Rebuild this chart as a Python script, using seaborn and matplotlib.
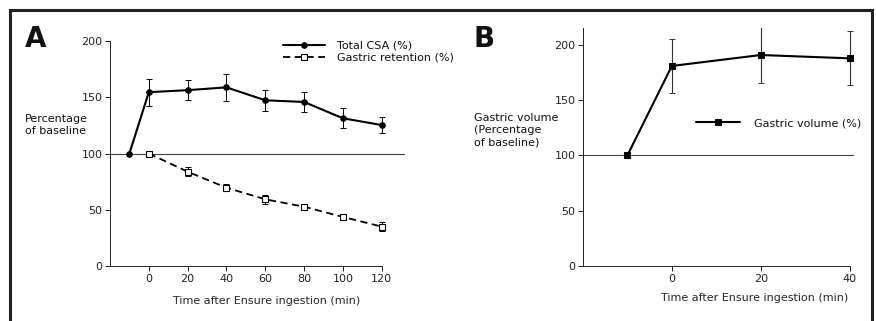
import numpy as np
import pandas as pd
import matplotlib
matplotlib.use("Agg")
import matplotlib.pyplot as plt
import seaborn as sns
from matplotlib.lines import Line2D

sns.set_style("ticks")
plt.rcParams.update({
    "font.family": ["DejaVu Sans"],
    "font.size": 7.5,
    "text.color": "#111111",
    "xtick.color": "#222222",
    "ytick.color": "#222222",
    "axes.edgecolor": "#222222",
    "axes.linewidth": 0.7,
    "xtick.major.width": 0.7,
    "ytick.major.width": 0.7,
    "xtick.major.size": 3.5,
    "ytick.major.size": 3.5,
    "xtick.labelsize": 8,
    "ytick.labelsize": 8,
})

# Panel A data
time_csa = [-10, 0, 20, 40, 60, 80, 100, 120]
csa_mean = [100, 154.5, 156.3, 158.8, 147.3, 145.8, 131.3, 125.3]
csa_err = [0, 12, 9, 12, 9.5, 9, 9, 7]

time_ret = [0, 20, 40, 60, 80, 100, 120]
ret_mean = [100, 83.8, 69.6, 59.3, 52.7, 43.6, 35.0]
ret_err = [0, 4, 3, 4, 2, 3, 4]

# Panel B data
time_vol = [-10, 0, 20, 40]
vol_mean = [100, 180.7, 190.6, 187.6]
vol_err = [0, 24, 25, 24.5]

xticks_a = [0, 20, 40, 60, 80, 100, 120]
xticks_b = [0, 20, 40]
yticks = [0, 50, 100, 150, 200]

df_csa = pd.DataFrame({"t": time_csa, "v": csa_mean})
df_ret = pd.DataFrame({"t": time_ret, "v": ret_mean})
df_vol = pd.DataFrame({"t": time_vol, "v": vol_mean})

fig = plt.figure(figsize=(8.76, 3.21), dpi=100)
W, H = 876, 321
ax_a = fig.add_axes([110 / W, 55 / H, 295 / W, 225 / H])
ax_b = fig.add_axes([583 / W, 55 / H, 271 / W, 238 / H])

# ---- Panel A
ax = ax_a
ax.axhline(100, color="#444444", lw=0.8, zorder=1)
ax.errorbar(time_csa, csa_mean, yerr=csa_err, fmt="none", ecolor="black",
            elinewidth=0.7, capsize=2, capthick=0.7, zorder=2)
ax.errorbar(time_ret, ret_mean, yerr=ret_err, fmt="none", ecolor="black",
            elinewidth=0.7, capsize=2, capthick=0.7, zorder=2)
sns.lineplot(data=df_csa, x="t", y="v", ax=ax, color="black", lw=1.5,
             marker="o", markersize=4, markeredgecolor="black",
             label="Total CSA (%)", zorder=3)
sns.lineplot(data=df_ret, x="t", y="v", ax=ax, color="black", lw=1.3,
             linestyle=(0, (4, 2.5)), marker="s", markersize=4,
             markerfacecolor="white", markeredgecolor="black",
             markeredgewidth=0.8, label="Gastric retention (%)", zorder=3)
ax.set_xlim(-20, 132)
ax.set_ylim(0, 200)
ax.set_xticks(xticks_a)
ax.set_yticks(yticks)
ax.spines["bottom"].set_bounds(-20, 120)
ax.set_xlabel("Time after Ensure ingestion (min)", fontsize=8)
ax.xaxis.set_label_coords(0.53, -0.135)
ax.set_ylabel("")
ax.legend(loc="upper left", bbox_to_anchor=(0.57, 1.02), frameon=False,
          fontsize=8, handlelength=3.8, handletextpad=1.1, labelspacing=0.15,
          borderaxespad=0)

# ---- Panel B
ax = ax_b
ax.axhline(100, color="#444444", lw=0.8, zorder=1)
ax.errorbar(time_vol, vol_mean, yerr=vol_err, fmt="none", ecolor="#333333",
            elinewidth=0.8, linestyle=":", capsize=2, capthick=0.7, zorder=2)
sns.lineplot(data=df_vol, x="t", y="v", ax=ax, color="black", lw=1.5,
             marker="s", markersize=4.5, markeredgecolor="black",
             label="Gastric volume (%)", zorder=3)
ax.set_xlim(-20, 41)
ax.set_ylim(0, 215)
ax.set_xticks(xticks_b)
ax.set_yticks(yticks)
ax.spines["bottom"].set_bounds(-20, 40)
ax.set_xlabel("Time after Ensure ingestion (min)", fontsize=8)
ax.xaxis.set_label_coords(0.98, -0.113)
ax.xaxis.label.set_ha("right")
ax.set_ylabel("")
ax.legend(loc="center left", bbox_to_anchor=(0.4, 0.6), frameon=False,
          fontsize=8, handlelength=4, handletextpad=1.2, borderaxespad=0)

for a in (ax_a, ax_b):
    a.spines["top"].set_visible(False)
    a.spines["right"].set_visible(False)
    a.tick_params(direction="out", pad=2)

# y labels and panel letters
fig.text(25 / W, 1 - 125 / H, "Percentage\nof baseline", ha="left",
         va="center", fontsize=8, linespacing=1.3)
fig.text(474 / W, 1 - 130 / H, "Gastric volume\n(Percentage\nof baseline)",
         ha="left", va="center", fontsize=8, linespacing=1.3)
fig.text(25 / W, 1 - 47 / H, "A", fontsize=20, fontweight="bold",
         ha="left", va="baseline")
fig.text(473 / W, 1 - 47 / H, "B", fontsize=20, fontweight="bold",
         ha="left", va="baseline")

# frame around the figure
fl = 10 / W
fr = 872 / W
ft = 1 - 10 / H
for xs, ys in [((fl, fr), (ft, ft)), ((fl, fl), (0, ft)), ((fr, fr), (0, ft))]:
    fig.add_artist(Line2D(xs, ys, color="#222222", lw=2.2,
                          solid_capstyle="projecting"))

fig.savefig("out.png", dpi=100)
